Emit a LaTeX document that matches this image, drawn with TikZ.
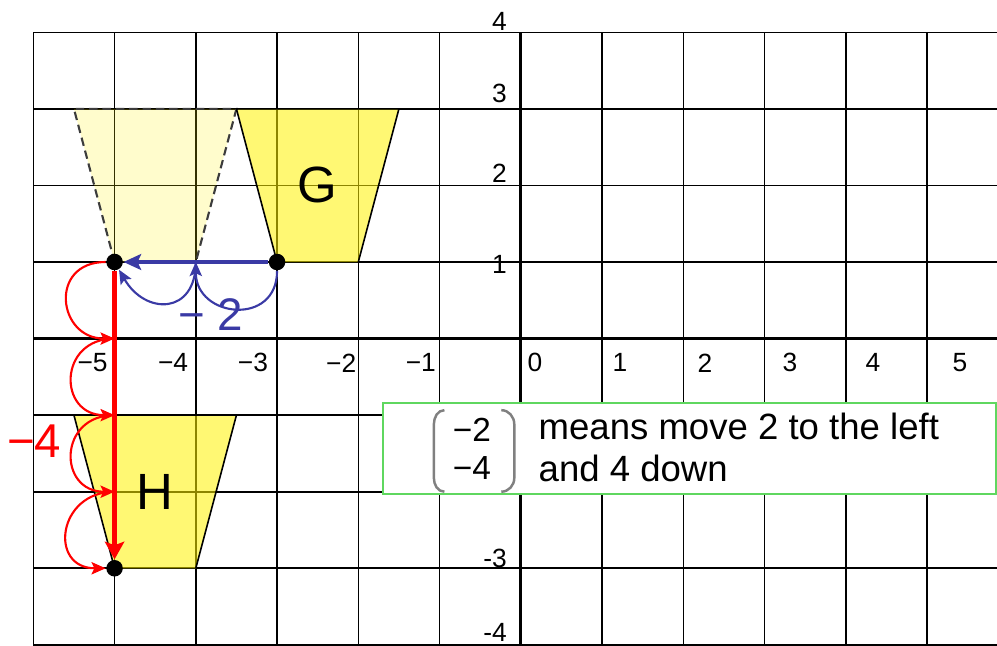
\documentclass[tikz,border=0pt]{standalone}
\usepackage{fontspec}
\setmainfont{Liberation Sans}
\usetikzlibrary{arrows.meta}
\definecolor{bluearr}{RGB}{58,58,165}
\definecolor{boxgreen}{RGB}{95,215,95}
\definecolor{dashgray}{RGB}{60,60,60}
\begin{document}
\begin{tikzpicture}[x=0.8125cm,y=0.7657cm,
  gridline/.style={black, line width=0.45pt},
  axisline/.style={black, line width=0.95pt},
  xlab/.style={font=\fontsize{7.5}{8}\selectfont, inner sep=0},
  ylab/.style={font=\fontsize{7.5}{8}\selectfont, inner sep=0, anchor=east},
  dot/.style={circle, fill=black, inner sep=0, minimum size=0.165cm},
  shapefill/.style={fill=yellow, fill opacity=0.55},
  ghostfill/.style={fill=yellow, fill opacity=0.2},
  shapeline/.style={black, line width=0.45pt},
  ghostline/.style={dashgray, line width=0.6pt, dash pattern=on 2.4pt off 1.4pt},
  bluemain/.style={bluearr, line width=1.3pt, -{Stealth[length=5pt,width=4.5pt,inset=1pt]}},
  bluehop/.style={bluearr, line width=0.6pt, -{Stealth[length=4pt,width=3.5pt,inset=0.8pt]}},
  redmain/.style={red, line width=1.6pt, -{Stealth[length=5pt,width=5.5pt,inset=1pt]}},
  redhop/.style={red, line width=0.6pt, -{Stealth[length=4pt,width=3.5pt,inset=0.8pt]}},
  bigletter/.style={font=\fontsize{14.5}{16}\selectfont, inner sep=0},
  boxtext/.style={font=\fontsize{10.4}{12}\selectfont, inner sep=0, anchor=base west},
  mattext/.style={font=\fontsize{9.5}{11}\selectfont, inner sep=0},
  parenline/.style={gray, line width=0.7pt}
]
\useasboundingbox (-6.41,-4.015) rectangle (5.861,4.422);

% grid
\foreach \x in {-6,...,5} \draw[gridline] (\x,-4) -- (\x,4);
\foreach \y in {-4,...,4} \draw[gridline] (-6,\y) -- (5.861,\y);
\draw[axisline] (-6,0) -- (5.861,0);
\draw[axisline] (0,-4) -- (0,4);

% fills
\fill[ghostfill] (-5,1) -- (-4,1) -- (-3.5,3) -- (-5.5,3) -- cycle;
\fill[shapefill] (-3,1) -- (-2,1) -- (-1.5,3) -- (-3.5,3) -- cycle;
\fill[shapefill] (-5,-3) -- (-4,-3) -- (-3.5,-1) -- (-5.5,-1) -- cycle;

% outlines
\draw[ghostline] (-5,1) -- (-5.5,3) -- (-3.5,3) -- (-4,1);
\draw[shapeline] (-3,1) -- (-3.5,3) -- (-1.5,3) -- (-2,1);
\draw[shapeline] (-5,-3) -- (-5.5,-1) -- (-3.5,-1) -- (-4,-3);

% letters
\node[bigletter] (G) at (-2.5,2) {G};
\node[bigletter] (H) at (-4.5,-2) {H};

% axis labels
\foreach \p/\t in {-5.271/−5, -4.280/−4, -3.296/−3, -2.21/−2, -1.23/−1, 0.175/0, 1.221/1, 2.267/2, 3.313/3, 4.334/4, 5.405/5}
  \node[xlab] (x\t) at (\p,-0.318) {\t};
\foreach \p/\t in {4.147/4, 3.206/3, 2.163/2, 0.974/1, -2.865/-3, -3.842/-4}
  \node[ylab] (y\t) at (-0.165,\p) {\t};

% points
\node[dot] (P) at (-3,1) {};
\node[dot] (A) at (-5,1) {};
\node[dot] (B) at (-5,-3) {};
\coordinate (m4) at (-4,1);
\coordinate (r0) at (-5,0);
\coordinate (r1) at (-5,-1);
\coordinate (r2) at (-5,-2);

% blue translation
\draw[bluehop] (P) to[out=-90,in=-90,looseness=1.75] (m4);
\draw[bluehop] (m4) to[out=-90,in=-60,looseness=1.75] (A);
\draw[bluemain] (P) -- (A);
\node[text=bluearr, font=\fontsize{13}{14}\selectfont, inner sep=0] (lb) at (-3.813,0.308) {− 2};

% red translation
\draw[redhop] (A) to[out=180,in=180,looseness=1.9] (r0);
\draw[redhop] (r0) to[out=180,in=180,looseness=1.9] (r1);
\draw[redhop] (r1) to[out=180,in=180,looseness=1.9] (r2);
\draw[redhop] (r2) to[out=180,in=180,looseness=1.9] (B);
\draw[redmain] (A) -- (B);
\node[text=red, font=\fontsize{13.5}{15}\selectfont, inner sep=0] (lr) at (-5.988,-1.338) {−4};

% explanation box
\node[draw=boxgreen, fill=white, line width=0.6pt, minimum width=6.127cm, minimum height=0.907cm, inner sep=0] (box) at (2.078,-1.437) {};
\draw[parenline] (-0.94,-0.935) to[out=180,in=90] (-1.07,-1.12) -- (-1.07,-1.82) to[out=-90,in=180] (-0.94,-2.0);
\draw[parenline] (-0.24,-0.935) to[out=0,in=90] (-0.08,-1.12) -- (-0.08,-1.82) to[out=-90,in=0] (-0.24,-2.0);
\node[mattext] (mx) at (-0.601,-1.196) {−2};
\node[mattext] (my) at (-0.601,-1.690) {−4};
\node[boxtext] (t1) at (0.212,-1.324) {means move 2 to the left};
\node[boxtext] (t2) at (0.212,-1.869) {and 4 down};
\end{tikzpicture}
\end{document}
